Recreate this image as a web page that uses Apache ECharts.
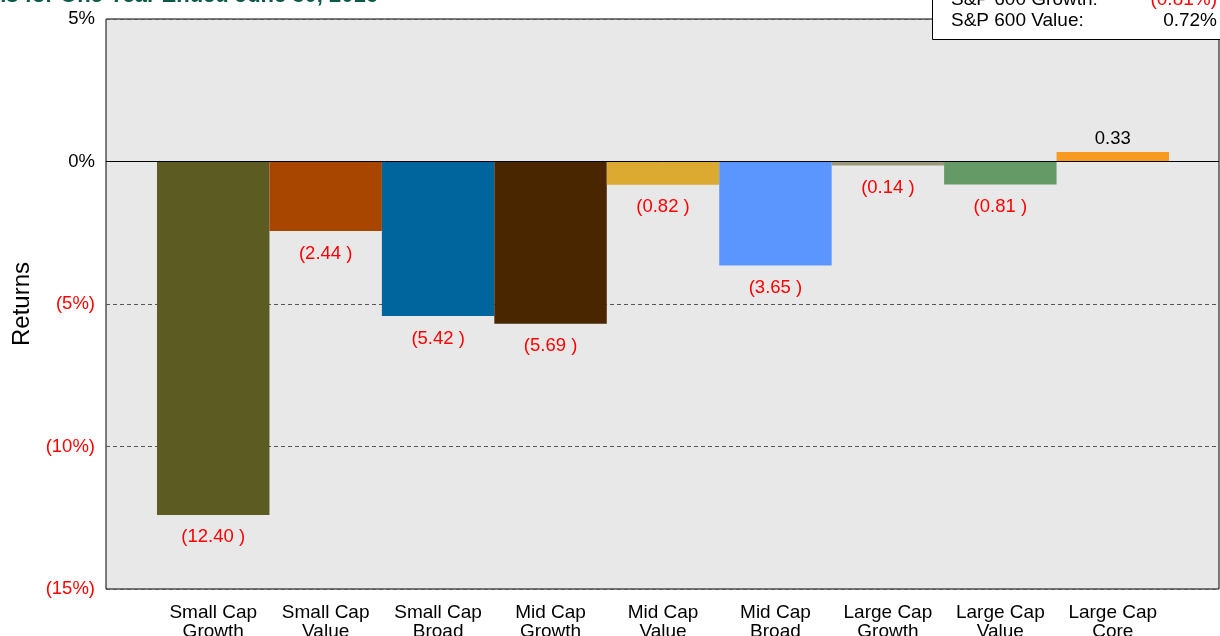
<!DOCTYPE html>
<html>
<head>
<meta charset="utf-8">
<script src="https://cdn.jsdelivr.net/npm/echarts@6/dist/echarts.min.js"></script>
<style>html,body{margin:0;padding:0;background:#fff;}#c{width:1220px;height:636px;}</style>
</head>
<body>
<div id="c"></div>
<script>
const categories = ['Small Cap\nGrowth','Small Cap\nValue','Small Cap\nBroad','Mid Cap\nGrowth','Mid Cap\nValue','Mid Cap\nBroad','Large Cap\nGrowth','Large Cap\nValue','Large Cap\nCore'];
const returnsPct = [-12.40, -2.44, -5.42, -5.69, -0.82, -3.65, -0.14, -0.81, 0.33];
const barColors = ['#5c5c22','#a84600','#00659c','#4a2600','#dcaa30','#5b96ff','#9a9a78','#659966','#f89a20'];
const yTicks = [-15, -10, -5, 0, 5];

const FONT = 'Liberation Sans, Arial, sans-serif';
const chart = echarts.init(document.getElementById('c'));

function fmtTick(v){ return v < 0 ? '{n|(' + Math.abs(v) + '%)}' : '{p|' + v + '%}'; }
function fmtVal(v){ return v < 0 ? '(' + Math.abs(v).toFixed(2) + ' )' : v.toFixed(2); }

const barData = returnsPct.map((v, i) => ({
  value: v,
  itemStyle: { color: barColors[i] },
  label: {
    show: true,
    position: v < 0 ? 'bottom' : 'top',
    distance: v < 0 ? 13 : 4,
    color: v < 0 ? '#ff0000' : '#000000',
    formatter: fmtVal(v)
  }
}));

chart.setOption({
  animation: false,
  textStyle: { fontFamily: FONT },
  grid: [
    { left: 106, right: 1, top: 19, bottom: 47, outerBoundsMode: 'none', containLabel: false, show: true, backgroundColor: '#e8e8e8', borderColor: '#000', borderWidth: 1 },
    { left: 157, right: 51, top: 19, bottom: 47, outerBoundsMode: 'none', containLabel: false }
  ],
  xAxis: [
    { type: 'category', gridIndex: 0, data: categories, show: false },
    { type: 'category', gridIndex: 1, data: categories, boundaryGap: true,
      axisLine: { show: false }, axisTick: { show: false },
      axisLabel: { interval: 0, fontSize: 19, color: '#000', lineHeight: 19, margin: 14, fontFamily: FONT } }
  ],
  yAxis: [
    { type: 'value', gridIndex: 0, min: yTicks[0], max: yTicks[yTicks.length-1], interval: 5,
      axisLine: { show: false }, axisTick: { show: false },
      splitLine: { show: true, lineStyle: { type: [4, 3], color: '#555', width: 1 } },
      axisLabel: { margin: 11, formatter: fmtTick,
        rich: { n: { color: '#ff0000', fontSize: 18.5, fontFamily: FONT }, p: { color: '#000', fontSize: 18.5, fontFamily: FONT } } },
      name: 'Returns', nameLocation: 'middle', nameRotate: 90, nameGap: 71,
      nameTextStyle: { fontSize: 24, color: '#000', fontFamily: FONT } },
    { type: 'value', gridIndex: 1, min: yTicks[0], max: yTicks[yTicks.length-1], interval: 5, show: false }
  ],
  series: [
    { type: 'line', xAxisIndex: 0, yAxisIndex: 0, data: [], z: 1, silent: true,
      markLine: { silent: true, symbol: 'none', label: { show: false },
        lineStyle: { color: '#000', type: 'solid', width: 1 }, data: [{ yAxis: 0 }] } },
    { type: 'bar', xAxisIndex: 1, yAxisIndex: 1, data: barData, barWidth: '100%', barGap: '0%', z: 3,
      label: { fontSize: 18.5, fontFamily: FONT } }
  ],
  graphic: [
    { type: 'text', right: 842, top: -15, style: { text: 'Small Cap Index Returns for One Year Ended June 30, 2016', font: 'bold 22px ' + FONT, fill: '#0b5a48', textAlign: 'right' } },
    { type: 'rect', left: 932, top: -40, shape: { width: 300, height: 79 }, style: { fill: '#fff', stroke: '#000', lineWidth: 1 }, z: 10 },
    { type: 'text', left: 951, top: -10, style: { text: 'S&P 600 Growth:', font: '19px ' + FONT, fill: '#000' }, z: 11 },
    { type: 'text', right: 3, top: -10, style: { text: '(0.81%)', font: '19px ' + FONT, fill: '#ff0000', textAlign: 'right' }, z: 11 },
    { type: 'text', left: 951, top: 11, style: { text: 'S&P 600 Value:', font: '19px ' + FONT, fill: '#000' }, z: 11 },
    { type: 'text', right: 3, top: 11, style: { text: '0.72%', font: '19px ' + FONT, fill: '#000', textAlign: 'right' }, z: 11 }
  ]
});
</script>
</body>
</html>
